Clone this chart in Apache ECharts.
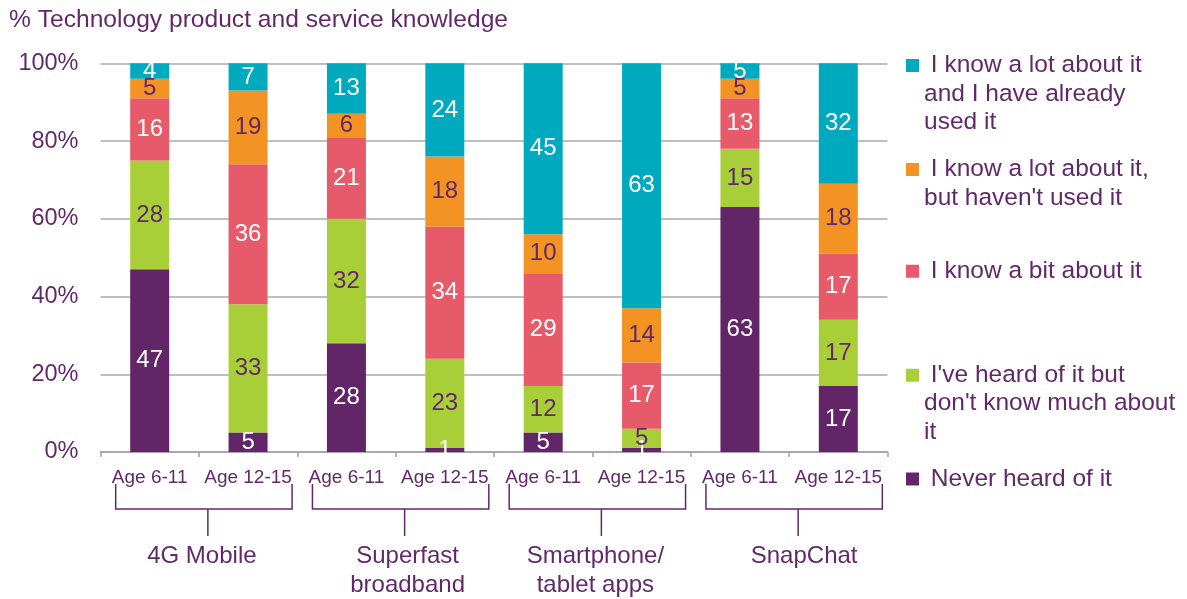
<!DOCTYPE html>
<html>
<head>
<meta charset="utf-8">
<script src="https://cdn.jsdelivr.net/npm/echarts@6/dist/echarts.min.js"></script>
<style>
  html, body { margin: 0; padding: 0; background: #fff; }
  #chart { width: 1187px; height: 599px; }
</style>
</head>
<body>
<div id="chart"></div>
<script>
// categories and tick labels
var ages = ['Age 6-11', 'Age 12-15', 'Age 6-11', 'Age 12-15', 'Age 6-11', 'Age 12-15', 'Age 6-11', 'Age 12-15'];
var groups = ['4G Mobile', 'Superfast\nbroadband', 'Smartphone/\ntablet apps', 'SnapChat'];
var yTicks = [0, 20, 40, 60, 80, 100];

// series values (%), stacked bottom to top
var neverHeard = [47, 5, 28, 1, 5, 1, 63, 17];
var heardOf = [28, 33, 32, 23, 12, 5, 15, 17];
var knowBit = [16, 36, 21, 34, 29, 17, 13, 17];
var knowLotNotUsed = [5, 19, 6, 18, 10, 14, 5, 18];
var knowLotUsed = [4, 7, 13, 24, 45, 63, 5, 32];

var seriesNames = [
  'Never heard of it',
  "I've heard of it but don't know much about it",
  'I know a bit about it',
  "I know a lot about it, but haven't used it",
  'I know a lot about it and I have already used it'
];
var legendText = [
  ' Never heard of it',
  " I've heard of it but\ndon't know much about\nit",
  ' I know a bit about it',
  " I know a lot about it,\nbut haven't used it",
  ' I know a lot about it\nand I have already\nused it'
];

var purple = '#62296a';
var font = '"Liberation Sans", Arial, sans-serif';
var colors = ['#622567', '#a8cf38', '#e75a69', '#f39323', '#00aabe'];
var labelColors = ['#fff', purple, '#fff', purple, '#fff'];
var values = [neverHeard, heardOf, knowBit, knowLotNotUsed, knowLotUsed];

// legend: icon centre y for each item (first line), lines 28.4 apart
var legendIconY = [479, 375.3, 271.3, 169.5, 65.5];
var lineH = 28.4;
var sq = 13;
// small horizontal nudges of the group names
var groupShift = [-6, 3, -6, 6];

var chart = echarts.init(document.getElementById('chart'));

// square sits on the first text line: the icon is stretched down with an
// invisible speck so that its centre matches the centre of the text block
var legends = seriesNames.map(function(name, i) {
  var n = legendText[i].split('\n').length;
  var h = (n - 1) * lineH + sq;
  return {
    data: [name],
    left: 906,
    top: legendIconY[i] - lineH / 2,
    padding: 0,
    icon: 'path://M0,0h' + sq + 'v' + sq + 'h-' + sq + 'z M0,' + (h - 0.01) + 'h0.01v0.01h-0.01z',
    itemWidth: sq,
    itemHeight: h,
    selectedMode: false,
    formatter: function() { return legendText[i]; },
    textStyle: {
      color: purple,
      fontSize: 24.5,
      fontFamily: font,
      lineHeight: lineH
    }
  };
});

var option = {
  animation: false,
  title: {
    text: '% Technology product and service knowledge',
    left: 9,
    top: 8,
    padding: 0,
    textStyle: { color: purple, fontSize: 24.6, fontWeight: 'normal', fontFamily: font }
  },
  legend: legends,
  grid: { left: 100.5, right: 299.5, top: 63.3, bottom: 147 },
  xAxis: {
    type: 'category',
    data: ages,
    axisLine: { lineStyle: { color: '#a99bad', width: 1.5 } },
    axisTick: { show: true, length: 5, lineStyle: { color: '#a99bad', width: 1.5 } },
    axisLabel: { interval: 0, color: purple, fontSize: 19, fontFamily: font, margin: 16 }
  },
  yAxis: {
    type: 'value',
    min: yTicks[0],
    max: yTicks[yTicks.length - 1],
    interval: yTicks[1] - yTicks[0],
    axisLine: { show: false },
    axisTick: { show: false },
    axisLabel: { formatter: '{value}%', color: purple, fontSize: 23.5, fontFamily: font, margin: 22 },
    splitLine: { lineStyle: { color: '#bfbfbf', width: 2 } }
  },
  series: seriesNames.map(function(name, i) {
    return {
      name: name,
      type: 'bar',
      stack: 'all',
      barWidth: 39,
      data: values[i],
      itemStyle: { color: colors[i] },
      label: {
        show: true,
        position: 'inside',
        color: labelColors[i],
        fontSize: 24,
        fontFamily: font
      }
    };
  })
};

chart.setOption(option);

// group brackets under the age labels
function drawBrackets() {
  var y0 = chart.convertToPixel({ yAxisIndex: 0 }, 0);
  var els = [];
  groups.forEach(function(g, i) {
    var l = chart.convertToPixel({ xAxisIndex: 0 }, i * 2) - 34;
    var r = chart.convertToPixel({ xAxisIndex: 0 }, i * 2 + 1) + 44;
    var m = (l + r) / 2 + 4;
    els.push({
      type: 'polyline',
      shape: { points: [[l, y0 + 32], [l, y0 + 57], [r, y0 + 57], [r, y0 + 32]] },
      style: { stroke: purple, lineWidth: 1.5, fill: null }
    });
    els.push({
      type: 'line',
      shape: { x1: m, y1: y0 + 57, x2: m, y2: y0 + 84 },
      style: { stroke: purple, lineWidth: 1.5 }
    });
    els.push({
      type: 'text',
      x: m + groupShift[i],
      y: y0 + 90,
      style: {
        text: g, fill: purple, fontSize: 24, fontFamily: font,
        align: 'center', verticalAlign: 'top', lineHeight: 29
      }
    });
  });
  chart.setOption({ graphic: els });
}
drawBrackets();
</script>
</body>
</html>
